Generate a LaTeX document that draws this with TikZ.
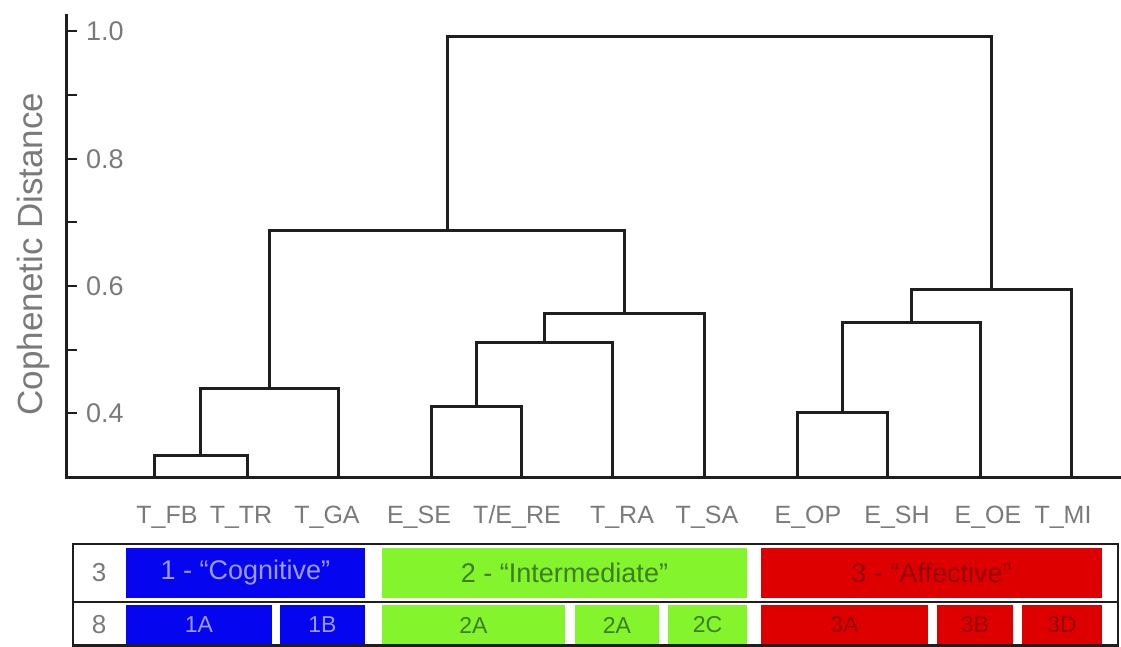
\documentclass[tikz,border=0pt]{standalone}
\usepackage{fontspec}
\setmainfont{Liberation Sans}
\definecolor{lblgray}{HTML}{7A7A7A}
\definecolor{linecol}{HTML}{1E1E1E}
\definecolor{cblue}{HTML}{0505F0}
\definecolor{cgreen}{HTML}{84F42C}
\definecolor{cred}{HTML}{DE0000}
\definecolor{tblue}{HTML}{9C9CFF}
\definecolor{tgreen}{HTML}{3E7E18}
\definecolor{tred}{HTML}{960000}
\tikzset{
  dend/.style={draw=linecol, line width=3pt, line join=miter},
  axisline/.style={draw=linecol, line width=3pt},
  ticklab/.style={text=lblgray, font=\fontsize{27}{30}\selectfont, anchor=west, inner sep=0pt},
  leaflab/.style={text=lblgray, font=\fontsize{25}{28}\selectfont, anchor=base, inner sep=0pt},
  rowlab/.style={text=lblgray, font=\fontsize{26}{29}\selectfont, inner sep=0pt},
  bigcell/.style={font=\fontsize{27}{30}\selectfont, inner sep=0pt},
  smallcell/.style={font=\fontsize{23}{26}\selectfont, inner sep=0pt},
}
\begin{document}
\begin{tikzpicture}[x=1pt,y=-1pt]
\useasboundingbox (0,0) rectangle (1121,646);
% axes
\coordinate (atop) at (66,14);
\coordinate (orig) at (66,477);
\coordinate (aend) at (1121,477);
\draw[axisline] (atop) -- (orig) -- (aend);
\foreach \yy/\nm in {31/t10,95/t09,159/t08,222/t07,286/t06,350/t05,413/t04}{
  \coordinate (\nm a) at (66,\yy);
  \coordinate (\nm b) at (77,\yy);
  \draw[axisline, line width=2.6pt] (\nm a) -- (\nm b);
}
\node[ticklab] (l10) at (86,31) {1.0};
\node[ticklab] (l08) at (86,159) {0.8};
\node[ticklab] (l06) at (86,286) {0.6};
\node[ticklab] (l04) at (86,413) {0.4};
\node[text=lblgray, font=\fontsize{35}{38}\selectfont, rotate=90, inner sep=0pt] (ylab) at (33,254) {Cophenetic Distance};
% leaves
\coordinate (fb) at (154,477);
\coordinate (tr) at (247,477);
\coordinate (ga) at (338,477);
\coordinate (se) at (431,477);
\coordinate (re) at (521,477);
\coordinate (ra) at (612,477);
\coordinate (sa) at (704,477);
\coordinate (op) at (797,477);
\coordinate (sh) at (887,477);
\coordinate (oe) at (980,477);
\coordinate (mi) at (1071,477);
% merges
\coordinate (m1) at (200.5,455);
\coordinate (m2) at (269,388);
\coordinate (m3) at (476,406);
\coordinate (m4) at (544,342);
\coordinate (m5) at (624,313);
\coordinate (m6) at (447,230);
\coordinate (m7) at (842,412);
\coordinate (m8) at (911,322);
\coordinate (m9) at (991,289);
\coordinate (m10) at (719,36);
\draw[dend] (fb) |- (m1) -| (tr);
\draw[dend] (m1) |- (m2) -| (ga);
\draw[dend] (se) |- (m3) -| (re);
\draw[dend] (m3) |- (m4) -| (ra);
\draw[dend] (m4) |- (m5) -| (sa);
\draw[dend] (m2) |- (m6) -| (m5);
\draw[dend] (op) |- (m7) -| (sh);
\draw[dend] (m7) |- (m8) -| (oe);
\draw[dend] (m8) |- (m9) -| (mi);
\draw[dend] (m6) |- (m10) -| (m9);
% leaf labels
\node[leaflab] (nfb) at (167,523) {T\_FB};
\node[leaflab] (ntr) at (241,523) {T\_TR};
\node[leaflab] (nga) at (327,523) {T\_GA};
\node[leaflab] (nse) at (419,523) {E\_SE};
\node[leaflab] (nre) at (517,523) {T/E\_RE};
\node[leaflab] (nra) at (622,523) {T\_RA};
\node[leaflab] (nsa) at (707,523) {T\_SA};
\node[leaflab] (nop) at (808,523) {E\_OP};
\node[leaflab] (nsh) at (897,523) {E\_SH};
\node[leaflab] (noe) at (988,523) {E\_OE};
\node[leaflab] (nmi) at (1063,523) {T\_MI};
% table cells row 1
\fill[cblue]  (126,548) rectangle (365,598);
\fill[cgreen] (382,548) rectangle (747,598);
\fill[cred]   (761,548) rectangle (1102,598);
% row 2
\fill[cblue]  (126,605) rectangle (272,646);
\fill[cblue]  (280,605) rectangle (365,646);
\fill[cgreen] (382,605) rectangle (565,646);
\fill[cgreen] (575,605) rectangle (659,646);
\fill[cgreen] (668,605) rectangle (747,646);
\fill[cred]   (761,605) rectangle (928,646);
\fill[cred]   (937,605) rectangle (1013,646);
\fill[cred]   (1022,605) rectangle (1102,646);
% table frame
\coordinate (tl) at (73,544);
\coordinate (br) at (1118,645.5);
\coordinate (ml) at (73,602);
\coordinate (mr) at (1118,602);
\draw[axisline, line width=2.6pt] (tl) rectangle (br);
\draw[axisline, line width=2.6pt] (ml) -- (mr);
% texts
\node[rowlab] (r3) at (99,573) {3};
\node[rowlab] (r8) at (99,625) {8};
\node[bigcell, text=tblue]  (c1) at (245.5,573) {1 - “Cognitive”};
\node[bigcell, text=tgreen] (c2) at (564.5,573) {2 - “Intermediate”};
\node[bigcell, text=tred]   (c3) at (931.5,573) {3 - “Affective”};
\node[smallcell, text=tblue]  (s1) at (199,625) {1A};
\node[smallcell, text=tblue]  (s2) at (322.5,625) {1B};
\node[smallcell, text=tgreen] (s3) at (473.5,625) {2A};
\node[smallcell, text=tgreen] (s4) at (617,625) {2A};
\node[smallcell, text=tgreen] (s5) at (707.5,625) {2C};
\node[smallcell, text=tred]   (s6) at (844.5,625) {3A};
\node[smallcell, text=tred]   (s7) at (975,625) {3B};
\node[smallcell, text=tred]   (s8) at (1062,625) {3D};
\end{tikzpicture}
\end{document}
